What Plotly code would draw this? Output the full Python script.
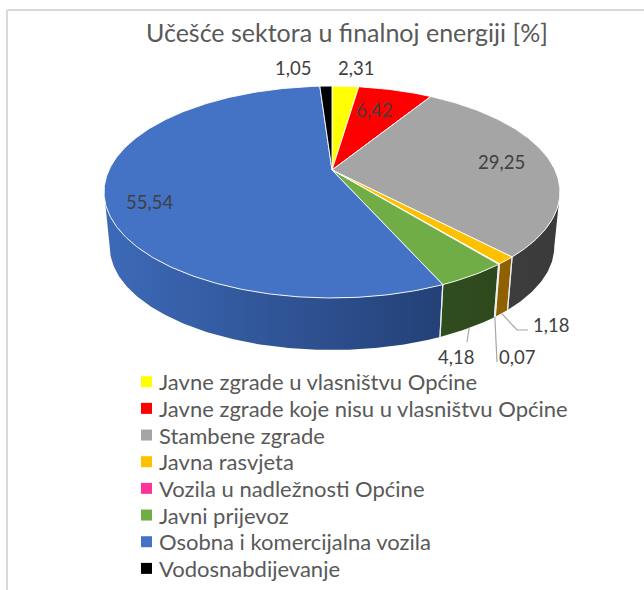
import numpy as np
import plotly.graph_objects as go

# ---- data -------------------------------------------------------------
chart_title = "Učešće sektora u finalnoj energiji [%]"
sectors = [
    "Javne zgrade u vlasništvu Općine",
    "Javne zgrade koje nisu u vlasništvu Općine",
    "Stambene zgrade",
    "Javna rasvjeta",
    "Vozila u nadležnosti Općine",
    "Javni prijevoz",
    "Osobna i komercijalna vozila",
    "Vodosnabdijevanje",
]
shares = [2.31, 6.42, 29.25, 1.18, 0.07, 4.18, 55.54, 1.05]

# ---- styling ----------------------------------------------------------
top_colors = ["#FFFF00", "#FF0000", "#A5A5A5", "#FFC000",
              "#FF3399", "#70AD47", "#4472C4", "#000000"]
# (lighter, darker) tones used for the gradient on the pie's outer wall
wall_colors = [("#B3B300", "#8C8C00"), ("#B30000", "#8C0000"),
               ("#555555", "#3A3A3A"), ("#A87400", "#8C5E00"),
               ("#B3246B", "#8C1C54"), ("#3E6327", "#2B451B"),
               ("#3D6AB8", "#1B3260"), ("#202020", "#000000")]

# label placement (pixel space) : (x, y, xanchor)
label_pos = [(356, 68, "center"), (374, 110, "center"), (501, 162, "center"),
             (531, 325, "left"), (497, 357, "left"), (456, 357, "center"),
             (149, 202, "center"), (293, 68, "center")]
# leader lines for the small outside labels: index -> path end points
leader_paths = {3: [(517, 330), (528, 330)],
                4: [(497, 362)],
                5: [(467, 342)]}

W, H = 644, 590
CX, CY = 332.0, 170.0          # projected pie centre
RX, RY = 223.0, 101.4          # semi axes of the tilted disc
K = 0.2076                     # perspective strength
DEPTH = 55.2                   # wall height
BOTTOM_SCALE = 0.975           # far (bottom) rim is slightly smaller

TEXT_FONT = "Lato, 'Open Sans', sans-serif"


def rim(theta, bottom=False):
    theta = np.asarray(theta, dtype=float)
    d = 1.0 + K * np.sin(theta)
    s = BOTTOM_SCALE if bottom else 1.0
    x = CX + s * RX * np.cos(theta) / d
    y = CY + (DEPTH if bottom else 0.0) - s * RY * np.sin(theta) / d
    return x, y


def arc(t0, t1):
    n = max(3, int(abs(np.degrees(t1 - t0)) * 1.5))
    return np.linspace(t0, t1, n)


total = float(sum(shares))
cum = np.concatenate([[0.0], np.cumsum(shares)]) / total
# pie starts at 12 o'clock and runs clockwise
theta_start = np.pi / 2 - 2 * np.pi * cum[:-1]
theta_end = np.pi / 2 - 2 * np.pi * cum[1:]

fig = go.Figure()

# ---- outer wall (front part only) -----------------------------------
vis_hi = -np.arcsin(K)
vis_lo = -np.pi + np.arcsin(K)
separators = []
for i in range(len(shares)):
    hi = min(theta_start[i], vis_hi)
    lo = max(theta_end[i], vis_lo)
    if hi <= lo:
        continue
    t = arc(hi, lo)
    xt, yt = rim(t)
    xb, yb = rim(t[::-1], bottom=True)
    xs = np.concatenate([xt, xb, xt[:1]])
    ys = np.concatenate([yt, yb, yt[:1]])
    c_light, c_dark = wall_colors[i]
    fig.add_trace(go.Scatter(
        x=xs, y=ys, mode="lines", fill="toself",
        line=dict(width=0, color=c_dark),
        fillgradient=dict(type="horizontal",
                          colorscale=[[0, c_light], [1, c_dark]],
                          start=CX - RX * 1.03, stop=CX + RX * 1.03),
        hoverinfo="skip", showlegend=False))
    for edge in (hi, lo):
        if vis_lo < edge < vis_hi:
            separators.append(edge)

for edge in separators:
    x0, y0 = rim(edge)
    x1, y1 = rim(edge, bottom=True)
    fig.add_trace(go.Scatter(
        x=[float(x0), float(x1)], y=[float(y0), float(y1)], mode="lines",
        line=dict(color="rgba(235,240,245,0.9)", width=1.2),
        hoverinfo="skip", showlegend=False))

# ---- top faces --------------------------------------------------------
for i, name in enumerate(sectors):
    t = arc(theta_start[i], theta_end[i])
    xa, ya = rim(t)
    xs = np.concatenate([[CX], xa, [CX]])
    ys = np.concatenate([[CY], ya, [CY]])
    fig.add_trace(go.Scatter(
        x=xs, y=ys, mode="lines", fill="toself",
        fillcolor=top_colors[i],
        line=dict(color="rgba(255,255,255,0.9)", width=1),
        name=name, text=f"{shares[i]:.2f}".replace(".", ","),
        hoverinfo="name+text", showlegend=False))

# ---- leader lines -----------------------------------------------------
for i, path in leader_paths.items():
    mid = (theta_start[i] + theta_end[i]) / 2
    ax, ay = rim(mid, bottom=True)
    px = [float(ax)] + [p[0] for p in path]
    py = [float(ay)] + [p[1] for p in path]
    fig.add_trace(go.Scatter(
        x=px, y=py, mode="lines",
        line=dict(color="#A6A6A6", width=1.2),
        hoverinfo="skip", showlegend=False))

# ---- value labels -----------------------------------------------------
annotations = []
for i, v in enumerate(shares):
    lx, ly, anchor = label_pos[i]
    annotations.append(dict(
        x=lx, y=ly, xref="x", yref="y", xanchor=anchor, yanchor="middle",
        text=f"{v:.2f}".replace(".", ","), showarrow=False,
        font=dict(family=TEXT_FONT, size=18.5, color="#404040")))

# ---- title --------------------------------------------------------------
annotations.append(dict(
    x=347, y=32, xref="x", yref="y", xanchor="center", yanchor="middle",
    text=chart_title, showarrow=False,
    font=dict(family=TEXT_FONT, size=25, color="#595959")))

# ---- legend (one row per sector) --------------------------------------
shapes = []
LEG_X, LEG_Y0, LEG_DY, SQ = 141, 381.7, 26.67, 11
for i, name in enumerate(sectors):
    yc = LEG_Y0 + i * LEG_DY
    shapes.append(dict(type="rect", xref="x", yref="y",
                       x0=LEG_X, x1=LEG_X + SQ, y0=yc - SQ / 2, y1=yc + SQ / 2,
                       fillcolor=top_colors[i], line=dict(width=0)))
    annotations.append(dict(
        x=LEG_X + SQ + 5, y=yc, xref="x", yref="y",
        xanchor="left", yanchor="middle", text=name, showarrow=False,
        font=dict(family=TEXT_FONT, size=22, color="#595959")))

# chart area frame
shapes.append(dict(type="line", xref="x", yref="y", x0=7, x1=7, y0=10, y1=H + 5,
                   line=dict(color="#D9D9D9", width=2)))
shapes.append(dict(type="line", xref="x", yref="y", x0=7, x1=W + 5, y0=10, y1=10,
                   line=dict(color="#D9D9D9", width=2)))

fig.update_layout(
    width=W, height=H, autosize=False,
    margin=dict(l=0, r=0, t=0, b=0),
    paper_bgcolor="white", plot_bgcolor="white",
    xaxis=dict(range=[0, W], visible=False, fixedrange=True),
    yaxis=dict(range=[H, 0], visible=False, fixedrange=True),
    annotations=annotations, shapes=shapes,
    showlegend=False,
)

fig.write_html("out.html")
